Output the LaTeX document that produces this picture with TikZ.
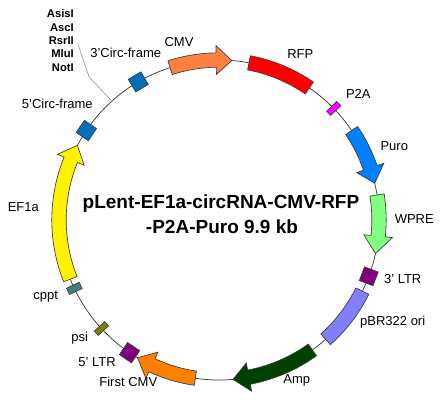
\documentclass[tikz,border=0pt]{standalone}
\usepackage{fontspec}
\setmainfont{Liberation Sans}
\usepackage{xcolor}
\definecolor{cmvorange}{RGB}{255,128,64}
\definecolor{puroblue}{RGB}{0,128,255}
\definecolor{wpregreen}{RGB}{128,255,128}
\definecolor{oriblue}{RGB}{128,128,255}
\definecolor{ampgreen}{RGB}{0,64,0}
\definecolor{firstorange}{RGB}{255,128,0}
\definecolor{circblue}{RGB}{0,112,184}
\definecolor{ltrpurple}{RGB}{128,0,128}
\definecolor{psiolive}{RGB}{128,128,0}
\definecolor{cpptteal}{RGB}{64,128,128}
\definecolor{ptwoapink}{RGB}{255,0,255}
\definecolor{edgegray}{RGB}{60,60,60}
\tikzset{
	backbone/.style={draw=edgegray, line width=0.55pt},
	leader/.style={draw=gray!80, line width=0.5pt},
	arcbox/.style={draw=edgegray, line width=0.5pt, fill=#1},
	sitebox/.style={draw=edgegray, line width=0.5pt, fill=#1, inner sep=0pt, minimum width=11pt, minimum height=11pt},
	tickbox/.style={draw=edgegray, line width=0.5pt, fill=#1, inner sep=0pt, minimum width=10.5pt, minimum height=4.4pt},
	lab/.style={font=\fontsize{9.75}{11}\selectfont, inner sep=0pt},
	enzlab/.style={font=\fontsize{8.4}{10}\selectfont\bfseries, inner sep=0pt, anchor=east},
	titlelab/.style={font=\fontsize{14.25}{17}\selectfont\bfseries, inner sep=0pt},
}
% start angle, head base angle, tip angle, colour
\newcommand{\arcarrow}[4]{
	\path[arcbox=#4] (#1:167.2) arc[start angle=#1, end angle=#2, radius=167.2]
		-- (#2:174.4) -- (#3:160) -- (#2:145.6) -- (#2:152.8)
		arc[start angle=#2, end angle=#1, radius=152.8] -- cycle;
}
% start angle, end angle, colour
\newcommand{\arcblock}[3]{
	\path[arcbox=#3] (#1:167.2) arc[start angle=#1, end angle=#2, radius=167.2]
		-- (#2:152.8) arc[start angle=#2, end angle=#1, radius=152.8] -- cycle;
}
\begin{document}
\begin{tikzpicture}[x=0.75pt, y=0.75pt]
	\useasboundingbox (-219,-182) rectangle (223,220);
	\draw[backbone] (0,0) circle[radius=160];

	\coordinate (leadstart) at (-141.3,176.7);
	\coordinate (leadbend) at (-130,143.3);
	\coordinate (leadend) at (-108.3,120);
	\draw[leader] (leadstart) -- (leadbend) -- (leadend);

	\arcarrow{107.8}{91}{85.4}{cmvorange}
	\arcblock{79.2}{55.6}{red}
	\arcarrow{34}{19}{13.3}{puroblue}
	\arcarrow{9}{-5.8}{-12.1}{wpregreen}
	\arcblock{-26.4}{-48.2}{oriblue}
	\arcarrow{-54.3}{-79.2}{-85}{ampgreen}
	\arcarrow{261.5}{245.2}{239.4}{firstorange}
	\arcarrow{201.7}{157.9}{152.2}{yellow}

	\node[tickbox=ptwoapink, rotate=44.2] (ptwoa) at (44.2:160) {};
	\node[sitebox=ltrpurple, rotate=-20.6] (ltrthree) at (-20.6:160) {};
	\node[sitebox=ltrpurple, rotate=236] (ltrfive) at (236:160) {};
	\node[tickbox=psiolive, rotate=222.7] (psibox) at (222.7:160) {};
	\node[tickbox=cpptteal, rotate=205.3, minimum height=5.2pt] (cpptbox) at (205.3:160) {};
	\node[sitebox=circblue, rotate=146] (circfive) at (146:160) {};
	\node[sitebox=circblue, rotate=120.3] (circthree) at (120.3:160) {};

	\node[lab] (cmvlab) at (-40,178.3) {CMV};
	\node[lab] (circthreelab) at (-93.3,166.7) {3'Circ-frame};
	\node[lab] (circfivelab) at (-161.7,115.7) {5'Circ-frame};
	\node[lab] (rfplab) at (81.3,166) {RFP};
	\node[lab] (ptwoalab) at (139.3,125.7) {P2A};
	\node[lab] (purolab) at (175.3,74.3) {Puro};
	\node[lab] (wprelab) at (195.3,1) {WPRE};
	\node[lab] (ltrthreelab) at (183.7,-59) {3' LTR};
	\node[lab] (orilab) at (173.7,-102.3) {pBR322 ori};
	\node[lab] (amplab) at (77.7,-160.7) {Amp};
	\node[lab] (firstlab) at (-90.7,-162) {First CMV};
	\node[lab] (ltrfivelab) at (-122,-141.7) {5' LTR};
	\node[lab] (psilab) at (-139.3,-118.3) {psi};
	\node[lab] (cpptlab) at (-173.3,-76.3) {cppt};
	\node[lab] (eflab) at (-195.7,12.7) {EF1a};

	\node[enzlab] (asis) at (-145,206.3) {AsisI};
	\node[enzlab] (asc) at (-145,192.7) {AscI};
	\node[enzlab] (rsr) at (-145,179.3) {RsrII};
	\node[enzlab] (mlu) at (-145,166) {MluI};
	\node[enzlab] (not) at (-145,152) {NotI};

	\node[titlelab] (titleone) at (2,16) {pLent-EF1a-circRNA-CMV-RFP};
	\node[titlelab] (titletwo) at (3,-7) {-P2A-Puro 9.9 kb};
\end{tikzpicture}
\end{document}
